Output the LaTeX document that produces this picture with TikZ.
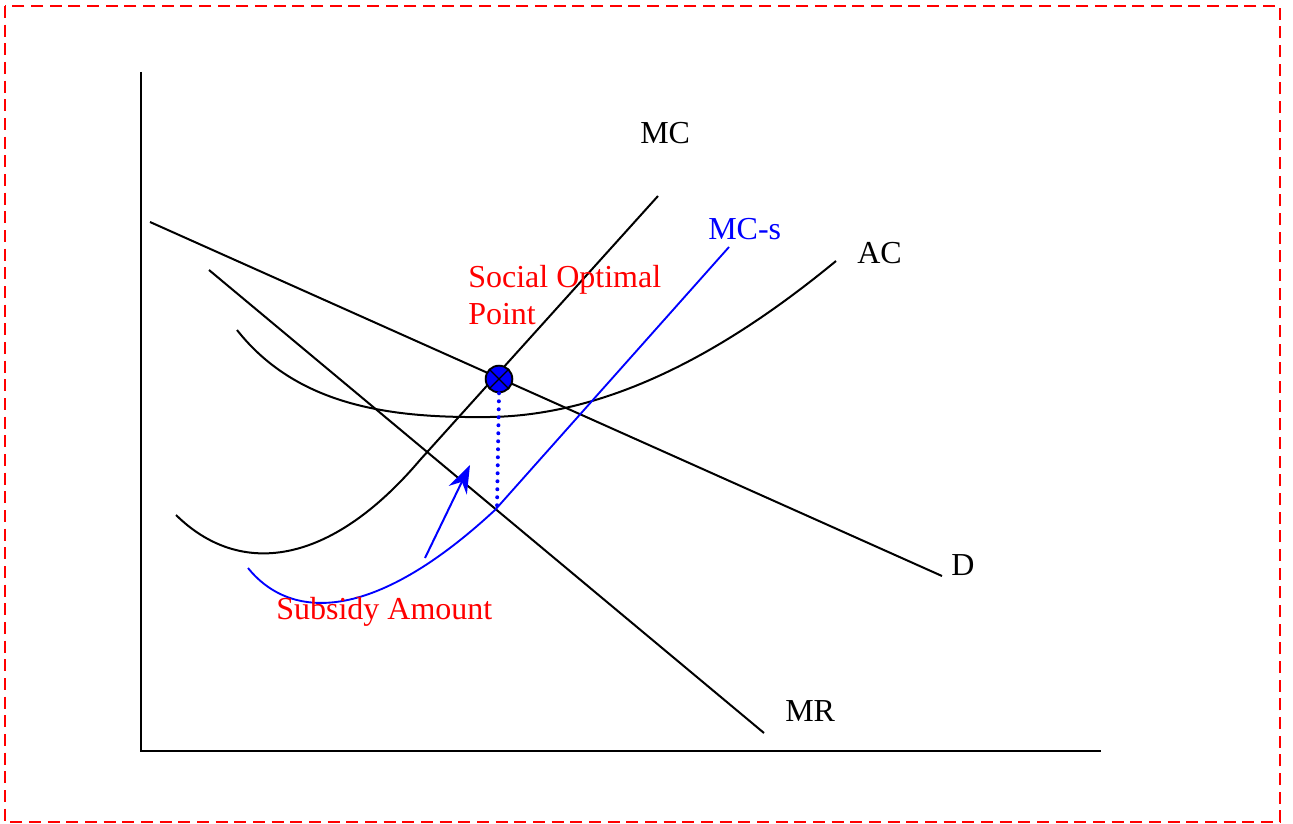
\documentclass[tikz,border=0pt]{standalone}
\usepackage{fontspec}
\setmainfont{Liberation Serif}
\usepackage{tikz}
\usetikzlibrary{arrows.meta,positioning}
\definecolor{frameRed}{RGB}{255,0,0}
\definecolor{subsBlue}{RGB}{0,0,255}
\definecolor{labelRed}{RGB}{255,0,0}
\tikzset{
  curveline/.style={line width=1.5pt, black},
  subsline/.style={line width=1.4pt, color=subsBlue},
  axisline/.style={line width=1.5pt, black},
  curvelabel/.style={anchor=west, inner sep=0pt, font=\fontsize{24}{27.6}\selectfont},
  optdot/.style={circle, draw=black, line width=1.4pt, fill=subsBlue, minimum size=20pt, inner sep=0pt},
  subsArrow/.style={-{Stealth[length=21pt,width=15pt,inset=7pt]}, line width=1.5pt, color=subsBlue}
}
\begin{document}
\begin{tikzpicture}[x=0.75pt, y=-0.75pt]
        \useasboundingbox (0,0) rectangle (1293,824);
        \draw[frameRed, line width=1.5pt, dash pattern=on 9pt off 5pt] (5,6) rectangle (1280,822);
        % axes
        \coordinate (top) at (141,72);
        \coordinate (origin) at (141,751);
        \coordinate (right) at (1101,751);
        \draw[axisline] (top) -- (origin) -- (right);
        % demand and marginal revenue
        \coordinate (d0) at (150,222);
        \coordinate (d1) at (942,576);
        \draw[curveline] (d0) -- (d1);
        \coordinate (mr0) at (209,270);
        \coordinate (mr1) at (764,733);
        \draw[curveline] (mr0) -- (mr1);
        % cost curves
        \coordinate (mc0) at (176,515);
        \coordinate (mc1) at (658,196);
        \draw[curveline] (mc0) .. controls (240,578) and (330,566) .. (420,460) -- (mc1);
        \coordinate (ac0) at (237,330);
        \coordinate (ac1) at (836,261);
        \draw[curveline] (ac0) .. controls (300,410) and (400,418) .. (490,417)
          .. controls (620,415) and (740,340) .. (ac1);
        \coordinate (mcs0) at (248,568);
        \coordinate (mcs1) at (729,247);
        \draw[subsline] (mcs0) .. controls (290,620) and (372,624) .. (495,510) -- (mcs1);
        % optimum and subsidy
        \node[optdot] (opt) at (499,379) {};
        \draw[curveline, line width=1pt] (opt.north east) -- (opt.south west);
        \draw[curveline, line width=1pt] (opt.north west) -- (opt.south east);
        \coordinate (sub) at (497,508);
        \draw[subsBlue, line width=3pt, line cap=round, dash pattern=on 0pt off 6pt] (opt.south) -- (sub);
        \coordinate (arr0) at (425,558);
        \coordinate (arr1) at (470,465);
        \draw[subsArrow] (arr0) -- (arr1);
        % labels
        \node[curvelabel] (mclabel) at (640,133) {MC};
        \node[curvelabel, text=subsBlue] (mcslabel) at (708,229) {MC-s};
        \node[curvelabel] (aclabel) at (857,253) {AC};
        \node[curvelabel] (dlabel) at (951,565) {D};
        \node[curvelabel] (mrlabel) at (785,711) {MR};
        \node[curvelabel, text=labelRed, align=left] (optlabel) at (468,295) {Social Optimal\\Point};
        \node[curvelabel, text=labelRed] (sublabel) at (276,612) {Subsidy Amount};
      \end{tikzpicture}
\end{document}
